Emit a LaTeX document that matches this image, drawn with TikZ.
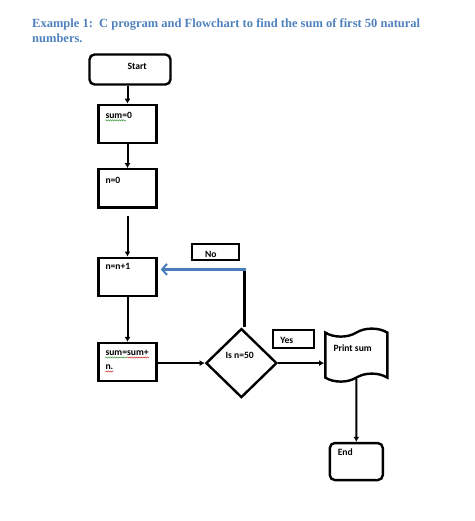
\documentclass[tikz,border=0pt]{standalone}
\usepackage{fontspec}
\setmainfont{Carlito}
\newfontfamily\titlefont{Liberation Serif}
\usetikzlibrary{arrows.meta,positioning,calc,shapes.geometric,shapes.symbols,decorations.pathmorphing}
\definecolor{titleblue}{HTML}{4F81BD}
\definecolor{loopblue}{HTML}{4A7EBB}
\definecolor{spellgreen}{HTML}{3E9A3E}
\definecolor{spellred}{HTML}{D03030}

\begin{document}
\begin{tikzpicture}[
  x=1pt, y=-1pt,
  node distance=18pt and 48pt,
  box/.style={draw, line width=2.4pt, minimum width=58pt, minimum height=38pt, inner sep=0pt},
  term/.style={box, rounded corners=5pt, minimum width=81pt, minimum height=30pt},
  decide/.style={draw, diamond, line width=2.4pt, minimum width=71pt, minimum height=69pt, inner sep=0pt},
  printout/.style={draw, tape, line width=2.4pt, minimum width=62pt, minimum height=53pt, tape bend height=8pt, inner sep=0pt},
  tag/.style={draw, line width=2pt, inner sep=0pt},
  lbl/.style={font=\fontsize{9.6}{12}\selectfont\bfseries, inner sep=0pt, anchor=base west},
  arrow/.style={-{Latex[length=5pt,width=6pt]}, line width=2pt},
  back/.style={-{Straight Barb[length=5pt,width=11pt,line width=2pt]}, line width=2.2pt, draw=loopblue},
  squig/.style={decorate, decoration={snake, segment length=2.2pt, amplitude=0.6pt}, line width=0.5pt}
]
\useasboundingbox (0,0) rectangle (474,521);

% Title
\node[anchor=north west, inner sep=0pt, align=left, text=titleblue,
  font=\titlefont\bfseries\fontsize{12.5}{15}\selectfont] (title) at (32,19)
  {Example 1:\ \ C program and Flowchart to find the sum of first 50 natural\\numbers.};

% Main column
\node[term] (start) at (130,69.5) {};
\node[box, below=18pt of start, xshift=-2.5pt] (sum0) {};
\node[box, below=24pt of sum0] (n0) {};
\node[box, below=48pt of n0] (nn1) {};
\node[box, below=45pt of nn1] (sumsum) {};

% Decision and output
\node[decide, right=47pt of sumsum, yshift=-1pt] (dia) {};
\node[printout, right=46pt of dia, yshift=8pt] (print) {};
\node[term, minimum width=53pt, minimum height=37pt, below=63pt of print] (end) {};

% Branch tags
\node[tag, minimum width=47pt, minimum height=16pt, above=66pt of dia, xshift=-26pt] (no) {};
\node[tag, minimum width=41pt, minimum height=18pt, left=9pt of print, yshift=16pt] (yes) {};

% Texts
\node[lbl] (starttxt) at ([shift={(39,16)}]start.north west) {Start};
\node[lbl] (sum0txt) at ([shift={(8,15)}]sum0.north west) {sum=0};
\node[lbl] (n0txt) at ([shift={(8,15)}]n0.north west) {n=0};
\node[lbl] (nn1txt) at ([shift={(8,13)}]nn1.north west) {n=n+1};
\node[lbl] (sumsumtxt) at ([shift={(8,14)}]sumsum.north west) {sum=sum+};
\node[lbl] (sumsumtxtb) at ([shift={(0,14)}]sumsumtxt.base west) {n.};
\node[lbl] (diatxt) at ([shift={(-16,-5)}]dia.center) {Is n=50};
\node[lbl] (notxt) at ([shift={(14,14)}]no.north west) {No};
\node[lbl] (yestxt) at ([shift={(8,14)}]yes.north west) {Yes};
\node[lbl] (printtxt) at ([shift={(-23,-4)}]print.center) {Print sum};
\node[lbl] (endtxt) at ([shift={(9,14)}]end.north west) {End};

% Spelling marks
\coordinate (s0a) at ([yshift=-1.6pt]sum0txt.base west);
\coordinate (s0b) at ([yshift=-1.6pt]sum0txt.base east);
\draw[squig, spellgreen] (s0a) -- ($(s0a)!0.78!(s0b)$);
\coordinate (s1a) at ([yshift=-1.6pt]sumsumtxt.base west);
\coordinate (s1b) at ([yshift=-1.6pt]sumsumtxt.base east);
\draw[squig, spellgreen] (s1a) -- ($(s1a)!0.5!(s1b)$);
\draw[squig, spellred] ($(s1a)!0.5!(s1b)$) -- (s1b);
\draw[squig, spellred] ([yshift=-1.6pt]sumsumtxtb.base west) -- ([yshift=-1.6pt]sumsumtxtb.base east);

% Arrows
\draw[arrow] (sum0.north |- start.south) -- (sum0);
\draw[arrow] (sum0) -- (n0);
\draw[arrow, shorten <=7pt] (n0) -- (nn1);
\draw[arrow] (nn1) -- (sumsum);
\draw[arrow] (sumsum.east |- dia.west) -- (dia.west);
\draw[arrow] (dia.east) -- (dia.east -| print.west);
\draw[arrow] (print) -- (end);
\draw[line width=2.2pt] ([xshift=3pt]dia.north) -- ++(0,-58) coordinate (turn);
\draw[back, shorten >=3pt] ([xshift=1.1pt]turn) -- (turn -| nn1.east);

\end{tikzpicture}
\end{document}
